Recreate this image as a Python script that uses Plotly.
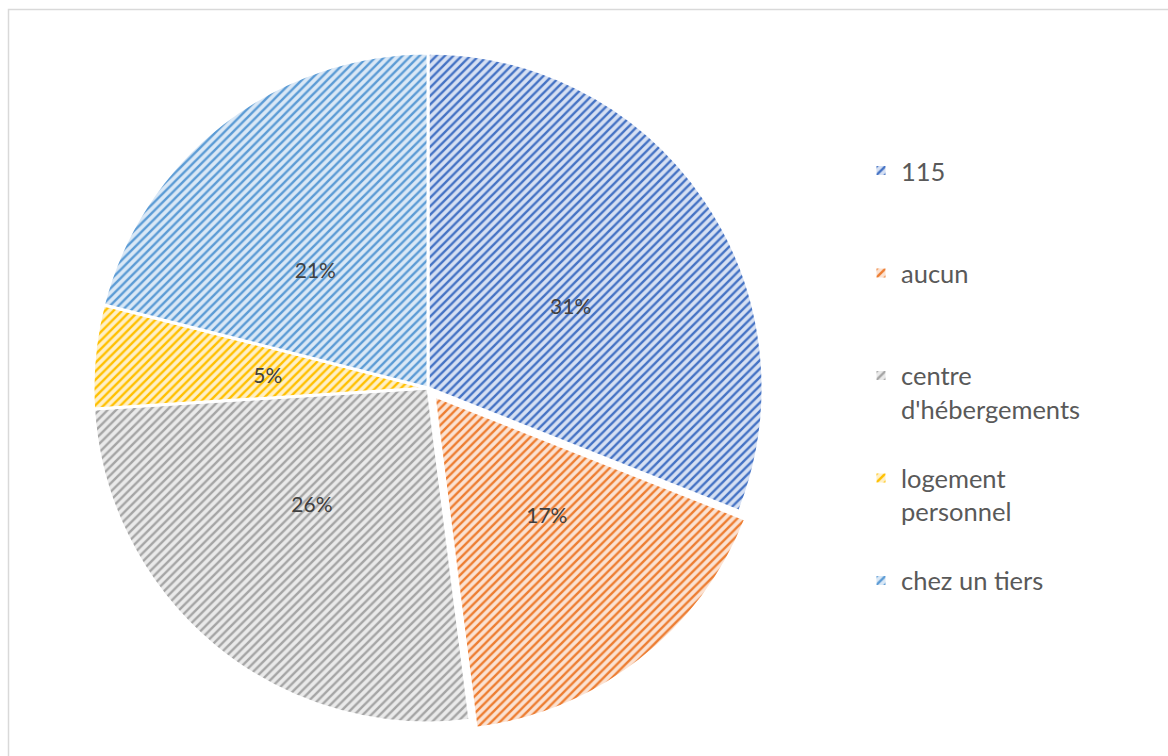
import plotly.graph_objects as go

# Housing situation shares
categories = ["115", "aucun", "centre d'hébergements", "logement personnel", "chez un tiers"]
legend_lines = [["115"], ["aucun"], ["centre", "d'hébergements"], ["logement", "personnel"], ["chez un tiers"]]
shares = [31, 17, 26, 5, 21]
pulls = [0, 0.03, 0, 0, 0]

stripe_colors = ["#4472C4", "#ED7D31", "#A5A5A5", "#FFC000", "#5B9BD5"]
fill_colors = ["#D6E0F3", "#FBE2D2", "#EAEAEA", "#FFF0C7", "#DAE8F6"]

W, H = 1168, 756
CX, CY, R = 428, 388, 335      # pie centre / radius (px)
LABEL_R = 140                  # radius of the ring the percentages sit on
FONT = "Lato, 'Open Sans', sans-serif"


def pie_domain(radius, max_pull):
    half = radius * (1 + max_pull)
    return dict(x=[(CX - half) / W, (CX + half) / W],
                y=[1 - (CY + half) / H, 1 - (CY - half) / H])


# each legend entry takes the same slot height (three lines)
slot_lines = 3
legend_labels = ["<br>".join(lines + ["\u00a0"] * (slot_lines - len(lines)))
                 for lines in legend_lines]

fig = go.Figure()

fig.add_trace(go.Pie(
    labels=legend_labels,
    values=shares,
    customdata=categories,
    sort=False,
    direction="clockwise",
    rotation=0,
    pull=pulls,
    textinfo="none",
    hovertemplate="%{customdata}: %{percent}<extra></extra>",
    marker=dict(
        colors=fill_colors,
        line=dict(color="white", width=3),
        pattern=dict(shape="/", fgcolor=stripe_colors, fgopacity=1,
                     size=6, solidity=0.4, fillmode="overlay"),
    ),
    domain=pie_domain(R, max(pulls)),
))

# percentage labels placed on an inner ring
label_pulls = [p * R / LABEL_R for p in pulls]
fig.add_trace(go.Pie(
    labels=categories,
    values=shares,
    sort=False,
    direction="clockwise",
    rotation=0,
    pull=label_pulls,
    texttemplate="%{percent:.0%}",
    textposition="outside",
    outsidetextfont=dict(family=FONT, size=21, color="#404040"),
    marker=dict(colors=["rgba(0,0,0,0)"] * len(shares), line=dict(width=0)),
    hoverinfo="skip",
    showlegend=False,
    domain=pie_domain(LABEL_R, max(label_pulls)),
))

fig.update_layout(
    width=W, height=H,
    margin=dict(l=0, r=0, t=0, b=0),
    paper_bgcolor="white",
    plot_bgcolor="white",
    font=dict(family=FONT, color="#595959"),
    showlegend=True,
    legend=dict(
        x=861 / W, xanchor="left",
        y=1 - 147.5 / H, yanchor="top",
        font=dict(family=FONT, size=25.5, color="#595959"),
        valign="top",
        bgcolor="rgba(0,0,0,0)",
    ),
    shapes=[dict(type="rect", xref="paper", yref="paper",
                 x0=8.5 / W, x1=1.02, y0=-0.02, y1=1 - 9.5 / H,
                 line=dict(color="#D9D9D9", width=1.5), layer="below")],
)

fig.write_html("out.html")
